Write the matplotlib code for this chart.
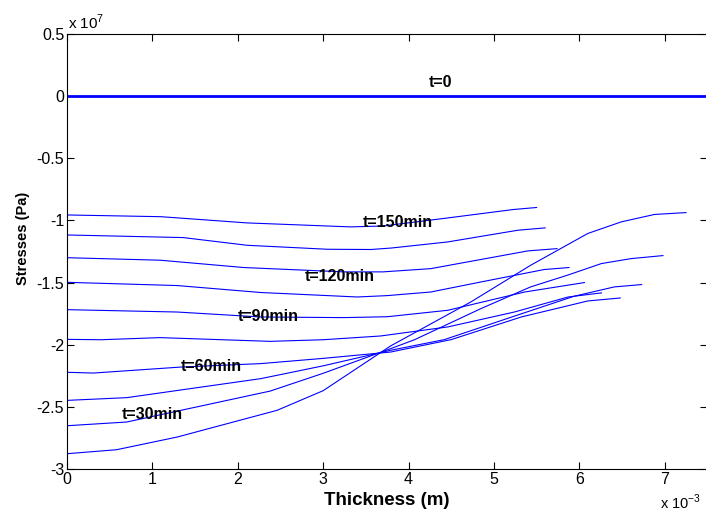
import matplotlib
matplotlib.use("Agg")
import matplotlib.pyplot as plt
from matplotlib.ticker import FuncFormatter

plt.rcParams["font.family"] = ["Liberation Sans", "DejaVu Sans"]
plt.rcParams["mathtext.fontset"] = "custom"
plt.rcParams["mathtext.rm"] = "Liberation Sans"
plt.rcParams["axes.unicode_minus"] = False

# thickness in units of 1e-3 m, stress in units of 1e7 Pa
X_T0 = [0.0, 7.5]
Y_T0 = [0.0, 0.0]

X_C1 = [0, 1.1, 2.11, 3.32, 3.7, 4.46, 5.23, 5.5]
Y_C1 = [-0.956, -0.97, -1.02, -1.052, -1.045, -0.98, -0.912, -0.896]

X_C2 = [0, 1.36, 2.11, 3.05, 3.56, 3.8, 4.46, 5.28, 5.6]
Y_C2 = [-1.117, -1.138, -1.20, -1.232, -1.234, -1.222, -1.173, -1.079, -1.06]

X_C3 = [0, 1.09, 2.07, 3.24, 3.7, 4.26, 5.40, 5.74]
Y_C3 = [-1.30, -1.32, -1.379, -1.414, -1.414, -1.388, -1.245, -1.227]

X_C4 = [0, 1.29, 2.27, 3.4, 3.75, 4.26, 4.85, 5.59, 5.88]
Y_C4 = [-1.498, -1.524, -1.58, -1.616, -1.605, -1.576, -1.495, -1.395, -1.379]

X_C5 = [0, 1.29, 2.27, 3.24, 3.75, 4.46, 5.36, 6.06]
Y_C5 = [-1.718, -1.737, -1.777, -1.782, -1.775, -1.723, -1.576, -1.50]

X_C6 = [0, 0.4, 1.09, 2.38, 3.0, 3.67, 4.46, 5.24, 5.87, 6.26]
Y_C6 = [-1.957, -1.96, -1.943, -1.973, -1.96, -1.93, -1.857, -1.737, -1.616, -1.583]

X_C7 = [0, 0.31, 1.33, 2.27, 3.0, 3.79, 4.5, 5.32, 6.10, 6.48]
Y_C7 = [-2.222, -2.228, -2.18, -2.152, -2.11, -2.059, -1.959, -1.777, -1.648, -1.624]

X_C8 = [0, 0.7, 2.27, 3.0, 3.79, 4.42, 5.24, 5.94, 6.41, 6.73]
Y_C8 = [-2.448, -2.426, -2.273, -2.17, -2.045, -1.959, -1.77, -1.61, -1.535, -1.516]

X_C9 = [0, 0.7, 2.38, 3.0, 3.79, 4.07, 4.85, 5.43, 5.86, 6.26, 6.61, 6.98]
Y_C9 = [-2.652, -2.622, -2.373, -2.23, -2.032, -1.96, -1.709, -1.535, -1.441, -1.347, -1.307, -1.283]

X_C10 = [0, 0.58, 1.29, 2.46, 3.0, 3.79, 4.73, 5.43, 6.10, 6.49, 6.88, 7.25]
Y_C10 = [-2.877, -2.845, -2.743, -2.528, -2.37, -2.01, -1.656, -1.361, -1.105, -1.012, -0.952, -0.937]

CURVES = [
    (X_C1, Y_C1), (X_C2, Y_C2), (X_C3, Y_C3), (X_C4, Y_C4), (X_C5, Y_C5),
    (X_C6, Y_C6), (X_C7, Y_C7), (X_C8, Y_C8), (X_C9, Y_C9), (X_C10, Y_C10),
]

LABELS = ["t=0", "t=150min", "t=120min", "t=90min", "t=60min", "t=30min"]
LABEL_X = [4.38, 3.87, 3.19, 2.36, 1.69, 1.0]
LABEL_Y = [0.113, -1.02, -1.455, -1.777, -2.174, -2.563]

X_TICKS = [0, 1, 2, 3, 4, 5, 6, 7]
Y_TICKS = [-3, -2.5, -2, -1.5, -1, -0.5, 0, 0.5]


fig = plt.figure(figsize=(7.06, 5.12), dpi=100)
ax = fig.add_axes([0.0949, 0.084, 0.907, 0.8496])

ax.plot(X_T0, Y_T0, color="#0000ff", linewidth=2.0)
for xs, ys in CURVES:
    ax.plot(xs, ys, color="#0000ff", linewidth=0.8)

for text, tx, ty in zip(LABELS, LABEL_X, LABEL_Y):
    ax.text(tx, ty, text, ha="center", va="center", fontsize=11.5,
            fontweight="bold", color="black")

ax.set_xlim(0, 7.5)
ax.set_ylim(-3, 0.5)
ax.set_xticks(X_TICKS)
ax.set_yticks(Y_TICKS)
fmt = FuncFormatter(lambda v, pos: f"{v:g}")
ax.xaxis.set_major_formatter(fmt)
ax.yaxis.set_major_formatter(fmt)
ax.tick_params(direction="in", top=True, right=True, length=5, width=0.8,
               labelsize=11.5, pad=2)

ax.set_xlabel("Thickness (m)", fontsize=13.5, fontweight="bold", labelpad=4)
ax.set_ylabel("Stresses (Pa)", fontsize=10.5, fontweight="bold")
ax.yaxis.set_label_coords(-0.058, 0.531)

# scale factors, placed as in the original figure
fig.text(0.096, 0.943, "x 10$^{7}$", fontsize=11, ha="left", va="baseline")
fig.text(0.993, 0.005, "x 10$^{-3}$", fontsize=10.5, ha="right", va="baseline")

fig.savefig("out.png", dpi=100)
